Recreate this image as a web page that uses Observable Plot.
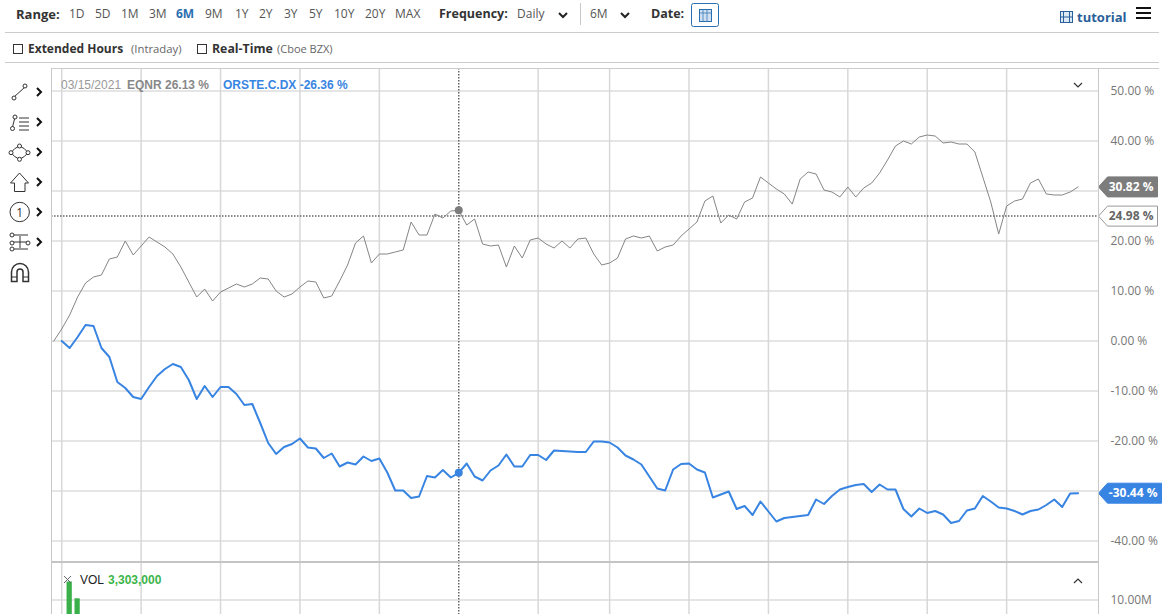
<!DOCTYPE html>
<html><head><meta charset="utf-8">
<script src="https://cdn.jsdelivr.net/npm/d3@7"></script>
<script src="https://cdn.jsdelivr.net/npm/@observablehq/plot@0.6"></script>
<style>
html,body{margin:0;padding:0;background:#fff;overflow:hidden}
#page{position:relative;width:1170px;height:614px;overflow:hidden;font-family:"Open Sans",sans-serif;font-size:12px;color:#555}
#page>svg{position:absolute;left:0;background:transparent}
.t{position:absolute;white-space:nowrap;line-height:16px}
.hr{position:absolute;height:1px;background:#ccc}
</style></head><body><div id="page"></div>
<script>
// percent change by trading-day index
const eqnr=[0,2.4,5.2,8.8,11.6,12.8,13.2,16.4,16.8,20,17.2,19,20.8,19.8,18.8,17.4,14.8,11.8,8.8,10.4,8,9.8,10.6,11.4,10.8,11.4,12.6,12.4,10,8.8,9.4,10.8,12,11.8,8.6,9,12,15.2,19.6,21,15.6,17.4,17.4,17.8,18.2,23.8,21.2,21.2,25.4,24.6,26,26.13,23.2,24.4,19.4,19,19.2,14.8,19,16.6,20.2,20.6,19.4,18.6,20,18.6,20.4,20.6,17.4,15.2,15.6,16.6,20.4,21,20.6,21,18,18.8,19.2,21,22.4,23.8,28,29,23.6,25.2,24.4,27.8,28.6,32.8,31.6,30.4,29.4,27.4,32.4,33.8,33.4,30.2,29.8,28.8,30.8,28.8,30.6,31.6,33.6,36.2,39,40,39.4,40.8,41.2,41,39.6,39.8,39.4,39.4,37.8,32.8,27.8,21.4,27,28,28.4,31.6,32.4,29.4,29.2,29.2,29.8,30.82];
const orste=[null,0,-1.4,0.8,3.2,3,-1.4,-3.2,-8.2,-9.4,-11.2,-11.6,-9.2,-7,-5.6,-4.6,-5.2,-7.8,-11.6,-9,-11.2,-9.2,-9.2,-10.6,-12.8,-12.6,-16.4,-20.4,-22.6,-21.2,-20.6,-19.5,-21.3,-21.5,-23.4,-22.5,-25.1,-24.3,-24.7,-23.1,-24,-23.5,-26.3,-29.9,-29.9,-31.4,-31.1,-27,-27.3,-25.8,-27.3,-26.36,-24.5,-27.1,-27.9,-25.9,-24.9,-22.7,-25.1,-25.1,-22.8,-22.8,-23.8,-21.9,-22,-22.1,-22.2,-22.2,-20.1,-20.1,-20.3,-21.3,-22.9,-23.7,-24.7,-27.1,-29.5,-29.9,-25.7,-24.6,-24.5,-25.7,-26.3,-31.3,-30.7,-30.1,-33.6,-33,-34.8,-32.1,-34.1,-36.1,-35.4,-35.2,-35,-34.8,-31.7,-32.6,-31,-29.7,-29.2,-28.8,-28.6,-30.2,-28.7,-29.7,-29.7,-33.6,-35.1,-33.5,-34.4,-34,-34.7,-36.4,-36,-33.9,-33.5,-31,-32.1,-33.3,-33.5,-34,-34.7,-34,-33.7,-32.8,-31.7,-33.2,-30.5,-30.44];
const monthTicks=[1,11,21,31,41,51,61,70,80,90,100,110,120];
const pctGrid=[-40,-30,-20,-10,0,10,20,30,40,50];
const pctLabels=[-40,-20,-10,0,10,20,40,50];
const volumeDays=[2,3];
const volumeValues=[16000000,10400000];
const volTicks=[10000000];
const crossDay=51, crossLevel=24.98;
const rangeLabels=["1D","5D","1M","3M","6M","9M","1Y","2Y","3Y","5Y","10Y","20Y","MAX"];
const rangeLeft=[69,95,121,149,176,205,235,259,284,309,334,365,395];

const GRID="#e5e5e5", VGRID="#d8d8d8", BLUE="#3884e2", GREY="#858585", TAG="#7c7c7c", CROSS="#666";
const xScale={domain:[-0.29,131.57],range:[51,1098]};
const page=document.getElementById("page");
const eqnrRows=eqnr.map((v,i)=>({i,v}));
const orsteRows=orste.map((v,i)=>({i,v})).filter(d=>d.v!==null);

function tag(value,fill,text,stroke,textColor,w){
  return (index,scales)=>{
    const y=scales.y(value)+0.5,x=scales.x(131.57)+0.5;
    const g=d3.create("svg:g");
    g.append("path").attr("d",`M${x},${y}l9,-10h${w-9}v20h-${w-9}z`).attr("fill",fill).attr("stroke",stroke||fill);
    g.append("text").attr("x",x+w-4).attr("y",y).attr("dy","0.35em").attr("text-anchor","end")
      .attr("font-family","Open Sans").attr("font-weight",700).attr("font-size",12).attr("fill",textColor).text(text);
    return g.node();
  };
}

const main=Plot.plot({
  width:1170,height:494,marginTop:0,marginBottom:0,marginLeft:51,marginRight:72,
  x:{...xScale,axis:null},
  y:{domain:[-44.3,54.5],range:[494,0],axis:null},
  style:{background:"transparent",overflow:"visible"},
  marks:[
    Plot.ruleY(pctGrid,{stroke:GRID,strokeWidth:2}),
    Plot.ruleX(monthTicks.filter(d=>d!==crossDay),{stroke:VGRID,strokeWidth:1.5}),
    Plot.ruleX([crossDay],{stroke:CROSS,strokeDasharray:"1.5,1.5",strokeWidth:1.5}),
    Plot.ruleY([crossLevel],{stroke:CROSS,strokeDasharray:"1.5,1.5",strokeWidth:1.5}),
    Plot.line(eqnrRows,{x:"i",y:"v",stroke:GREY,strokeWidth:1}),
    Plot.line(orsteRows,{x:"i",y:"v",stroke:BLUE,strokeWidth:2}),
    Plot.dot([eqnrRows[crossDay]],{x:"i",y:"v",r:4,fill:TAG}),
    Plot.dot([orsteRows[crossDay-1]],{x:"i",y:"v",r:4,fill:BLUE}),
    Plot.axisY(pctLabels,{anchor:"right",tickSize:0,tickPadding:12,tickFormat:d=>d.toFixed(2)+" %",label:null,fontSize:12,fontFamily:"Open Sans",color:"#777"}),
    tag(eqnr[eqnr.length-1],TAG,"30.82 %",null,"#fff",59),
    tag(crossLevel,"#fff","24.98 %","#999","#666",59),
    tag(orste[orste.length-1],BLUE,"-30.44 %",null,"#fff",63)
  ]
});
main.style.top="68px";
page.appendChild(main);

const vol=Plot.plot({
  width:1170,height:52,marginTop:0,marginBottom:0,marginLeft:51,marginRight:72,
  x:{...xScale,axis:null},
  y:{domain:[5166667,22500000],range:[52,0],axis:null},
  style:{background:"transparent"},
  marks:[
    Plot.ruleY(volTicks,{stroke:GRID,strokeWidth:2}),
    Plot.ruleX(monthTicks.filter(d=>d!==crossDay),{stroke:VGRID,strokeWidth:1.5}),
    Plot.ruleX([crossDay],{stroke:CROSS,strokeDasharray:"1.5,1.5",strokeWidth:1.5}),
    Plot.rect(volumeDays.map((d,k)=>({d,v:volumeValues[k]})),{x1:d=>d.d-0.33,x2:d=>d.d+0.33,y1:()=>0,y2:"v",fill:"#39b04a",clip:true}),
    Plot.axisY(volTicks,{anchor:"right",tickSize:0,tickPadding:12,tickFormat:d=>(d/1e6).toFixed(2)+"M",label:null,fontSize:12,fontFamily:"Open Sans",color:"#777"})
  ]
});
vol.style.top="562px";
page.appendChild(vol);

function text(s,left,top,css){
  const e=document.createElement("span");e.className="t";e.textContent=s;
  e.style.left=left+"px";e.style.top=top+"px";if(css)e.style.cssText+=css;page.appendChild(e);return e;
}
function hr(top,left,w,c){const e=document.createElement("div");e.className="hr";e.style.cssText=`top:${top}px;left:${left}px;width:${w}px;background:${c}`;page.appendChild(e);}
hr(32,5,1154,"#ccc");hr(62,5,1154,"#ccc");hr(68,51,1108,"#ccc");hr(561,51,1047,"#c4c4c4");hr(562,51,1047,"#c4c4c4");
const vb=(x,t,h)=>{const e=document.createElement("div");e.style.cssText=`position:absolute;left:${x}px;top:${t}px;width:1px;height:${h}px;background:#c8c8c8`;page.appendChild(e);};
vb(51,68,546);vb(1098,68,546);vb(580,3,22);

text("Range:",16,6,"font-weight:700;color:#333;font-size:13px");
rangeLabels.forEach((l,k)=>text(l,rangeLeft[k],6,l==="6M"?"font-weight:700;color:#2a6fb0":"color:#555"));
text("Frequency:",439,6,"font-weight:700;color:#333;font-size:12.5px");
text("Daily",517,6,"color:#555");
text("6M",590,6,"color:#555");
text("Date:",651,6,"font-weight:700;color:#333;font-size:12.5px");
text("tutorial",1077,9,"font-weight:700;color:#2a6099;font-size:13px");
text("Extended Hours",28,41,"font-weight:700;color:#333");
text("(Intraday)",131,41,"font-size:11.3px;color:#666");
text("Real-Time",212,41,"font-weight:700;color:#333;font-size:12.3px");
text("(Cboe BZX)",277,41,"font-size:11px;color:#666");
const A='font-family:"Liberation Sans";';
text("03/15/2021",61,77,A+"color:#999");
text("EQNR 26.13 %",127,77,A+"color:#888;font-weight:700");
text("ORSTE.C.DX -26.36 %",223,77,A+`color:${BLUE};font-weight:700`);
text("VOL",80,572,A+"color:#222");
text("3,303,000",108,572,A+"color:#3bb54a;font-weight:700");

const ic=document.createElementNS("http://www.w3.org/2000/svg","svg");
ic.setAttribute("width",1170);ic.setAttribute("height",614);
ic.style.cssText="position:absolute;left:0;top:0;pointer-events:none";
const chev=(x,y)=>`<path d="M${x-2},${y-4}l4,4l-4,4" fill="none" stroke="#111" stroke-width="2"/>`;
const down=(x,y,c,w)=>`<path d="M${x-4},${y-2}l4,4l4,-4" fill="none" stroke="${c||'#222'}" stroke-width="${w||2}"/>`;
const up=(x,y)=>`<path d="M${x-4},${y+2}l4,-4l4,4" fill="none" stroke="#333" stroke-width="1.2"/>`;
const g='fill="#fff" stroke="#333" stroke-width="1"';
ic.innerHTML=
 down(563,15)+down(625,15)+down(1078,85,"#333",1.2)+up(1078,581)+
 `<rect x="691.5" y="3.5" width="27" height="23" rx="2" fill="#fff" stroke="#2a6fb0"/>
  <rect x="699.5" y="9.5" width="12" height="12" fill="#cfe0f2" stroke="#2a6fb0"/><path d="M699,13h13M703,9v13M707,9v13" stroke="#2a6fb0" stroke-width=".7"/>
  <rect x="1060.5" y="11.5" width="12" height="11" fill="#dce8f4" stroke="#2a6099"/><path d="M1063.5,12v10M1069.5,12v10M1060,17h13" stroke="#2a6099"/>
  <path d="M1136,8h15M1136,13h15M1136,18h15" stroke="#111" stroke-width="2"/>
  <rect x="13.5" y="44.5" width="9" height="9" fill="#fff" stroke="#333"/><rect x="197.5" y="44.5" width="9" height="9" fill="#fff" stroke="#333"/>
  <path d="M14,97L25,87" stroke="#333"/><circle cx="14" cy="98" r="2" ${g}/><circle cx="25" cy="86" r="2" ${g}/>
  <path d="M12,129L15,117M19,118h10M19,122h10M19,126h10M19,130h10" stroke="#333"/><circle cx="12.5" cy="128.5" r="2" ${g}/><circle cx="15" cy="117" r="2" ${g}/>
  <path d="M19.5,146Q25,148 28,152.7Q25,157 19.5,159.3Q14,157 11,152.7Q14,148 19.5,146Z" fill="none" stroke="#333"/><circle cx="19.5" cy="146" r="2" ${g}/><circle cx="28" cy="152.7" r="2" ${g}/><circle cx="19.5" cy="159.3" r="2" ${g}/><circle cx="11" cy="152.7" r="2" ${g}/>
  <path d="M19.5,173L28.5,183H25V191.5H14.5V183H10.5Z" fill="#fff" stroke="#333"/>
  <circle cx="19.7" cy="212" r="9.7" fill="#fff" stroke="#333"/><text x="19.7" y="216.5" text-anchor="middle" font-size="12" fill="#333" font-family="Open Sans">1</text>
  <path d="M12,235H28M12,242H28M12,249H28M20,236V248" stroke="#333"/><circle cx="12" cy="235" r="2" ${g}/><circle cx="12" cy="243" r="2" ${g}/><circle cx="28" cy="243" r="2" ${g}/><circle cx="12" cy="249" r="2" ${g}/>
  <path d="M11.5,281.5V272a8.5,8.5 0 0 1 17,0V281.5H23V272a3,3 0 0 0 -6,0V281.5Z" fill="#fff" stroke="#333" stroke-width="1.5"/><path d="M12,277h5M23,277h5" stroke="#333"/>
  <path d="M64,576l7,7M71,576l-7,7" stroke="#666"/>`+
 [92,122,152,182,212,242].map(y=>chev(39,y)).join("");
page.appendChild(ic);
</script></body></html>
